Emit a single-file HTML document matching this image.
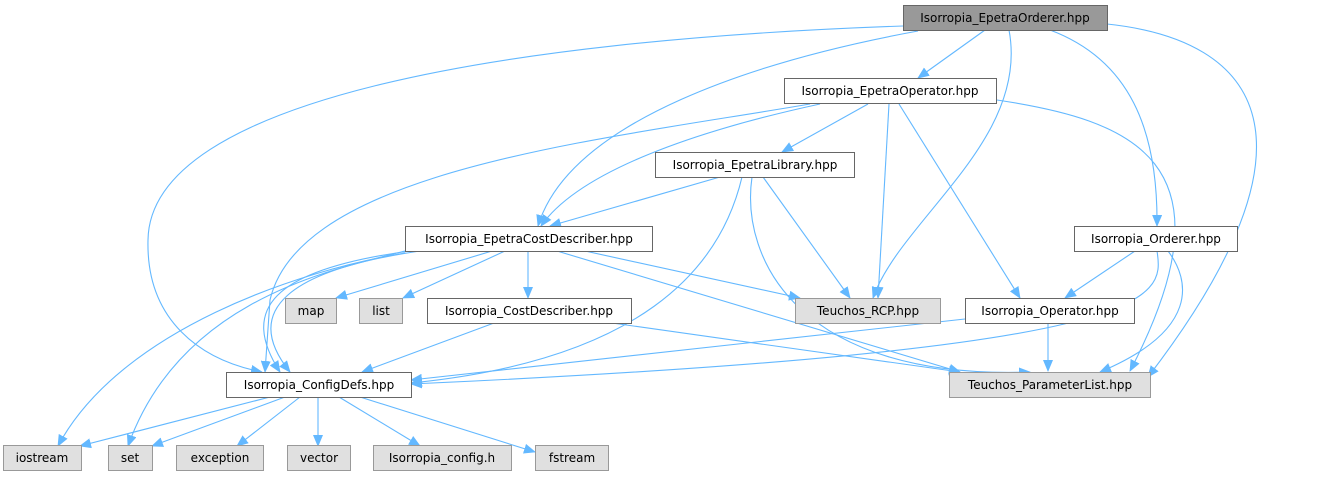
<!DOCTYPE html>
<html><head><meta charset="utf-8"><style>
body{margin:0;background:#fff;width:1331px;height:476px;overflow:hidden}
text{font-family:"DejaVu Sans","Liberation Sans",sans-serif;font-size:12px;fill:#000;text-anchor:middle}
.e{fill:none;stroke:#63b8ff;stroke-width:1.1}
.n{fill:#fff;stroke:#666;stroke-width:1}
.g{fill:#e0e0e0;stroke:#999;stroke-width:1}
</style></head><body>
<svg width="1331" height="476" viewBox="0 0 1331 476" xmlns="http://www.w3.org/2000/svg">
<defs><marker id="a" markerWidth="12" markerHeight="10" refX="11" refY="5" orient="auto" markerUnits="userSpaceOnUse"><path d="M0,0 L12,5 L0,10 z" fill="#63b8ff"/></marker></defs>
<g class="e" marker-end="url(#a)">
<path d="M985,30 L918,78"/>
<path d="M1050,30 C1130,60 1158,130 1157,226"/>
<path d="M1107,24 C1260,40 1330,140 1148,377"/>
<path d="M1009,30 C1030,140 900,220 873,298"/>
<path d="M918,31 C760,60 570,120 538,226"/>
<path d="M903,26 C500,40 150,100 148,240 C146,320 200,360 262,372"/>
<path d="M868,104 L782,152"/>
<path d="M889,104 L878,298"/>
<path d="M899,104 L1020,298"/>
<path d="M997,100 C1130,120 1240,160 1130,371"/>
<path d="M820,104 C700,130 580,170 541,226"/>
<path d="M810,104 C600,140 300,170 270,300 L265,372"/>
<path d="M720,177 L550,226"/>
<path d="M763,177 L850,298"/>
<path d="M752,177 C740,260 800,380 1030,372"/>
<path d="M742,177 C720,270 640,360 411,383"/>
<path d="M492,251 L336,298"/>
<path d="M505,251 L403,298"/>
<path d="M528,251 L528,298"/>
<path d="M585,251 L800,298"/>
<path d="M557,251 L960,372"/>
<path d="M420,251 C290,270 240,310 290,372"/>
<path d="M410,251 C270,270 240,310 280,372"/>
<path d="M405,251 C330,270 180,300 128,446"/>
<path d="M405,253 C300,270 120,330 58,446"/>
<path d="M494,323 L362,372"/>
<path d="M612,323 L960,372"/>
<path d="M1135,251 L1065,298"/>
<path d="M1157,251 C1165,300 1160,350 411,384"/>
<path d="M1168,251 C1190,280 1200,330 1100,372"/>
<path d="M1048,323 L1048,371"/>
<path d="M965,319 L411,380"/>
<path d="M270,397 L80,446"/>
<path d="M285,397 L152,446"/>
<path d="M300,397 L237,446"/>
<path d="M318,397 L318,446"/>
<path d="M339,397 L420,446"/>
<path d="M360,397 L535,452"/>
</g>
<rect x="903.5" y="5.5" width="204" height="25" fill="#999" stroke="#666"/><text x="1005" y="22">Isorropia_EpetraOrderer.hpp</text>
<rect x="784.5" y="78.5" width="212" height="25" class="n"/><text x="890" y="95">Isorropia_EpetraOperator.hpp</text>
<rect x="655.5" y="152.5" width="199" height="25" class="n"/><text x="755" y="169">Isorropia_EpetraLibrary.hpp</text>
<rect x="405.5" y="226.5" width="247" height="25" class="n"/><text x="529" y="243">Isorropia_EpetraCostDescriber.hpp</text>
<rect x="1074.5" y="226.5" width="163" height="25" class="n"/><text x="1156" y="243">Isorropia_Orderer.hpp</text>
<rect x="285.5" y="298.5" width="51" height="25" class="g"/><text x="311" y="315">map</text>
<rect x="359.5" y="298.5" width="43" height="25" class="g"/><text x="381" y="315">list</text>
<rect x="427.5" y="298.5" width="204" height="25" class="n"/><text x="529" y="315">Isorropia_CostDescriber.hpp</text>
<rect x="795.5" y="298.5" width="145" height="25" class="g"/><text x="868" y="315">Teuchos_RCP.hpp</text>
<rect x="965.5" y="298.5" width="169" height="25" class="n"/><text x="1050" y="315">Isorropia_Operator.hpp</text>
<rect x="226.5" y="372.5" width="185" height="25" class="n"/><text x="319" y="389">Isorropia_ConfigDefs.hpp</text>
<rect x="949.5" y="372.5" width="201" height="25" class="g"/><text x="1050" y="389">Teuchos_ParameterList.hpp</text>
<rect x="3.5" y="445.5" width="78" height="25" class="g"/><text x="42" y="462">iostream</text>
<rect x="108.5" y="445.5" width="44" height="25" class="g"/><text x="130" y="462">set</text>
<rect x="176.5" y="445.5" width="87" height="25" class="g"/><text x="220" y="462">exception</text>
<rect x="287.5" y="445.5" width="63" height="25" class="g"/><text x="319" y="462">vector</text>
<rect x="373.5" y="445.5" width="138" height="25" class="g"/><text x="442" y="462">Isorropia_config.h</text>
<rect x="535.5" y="445.5" width="73" height="25" class="g"/><text x="572" y="462">fstream</text>
</svg>
</body></html>
